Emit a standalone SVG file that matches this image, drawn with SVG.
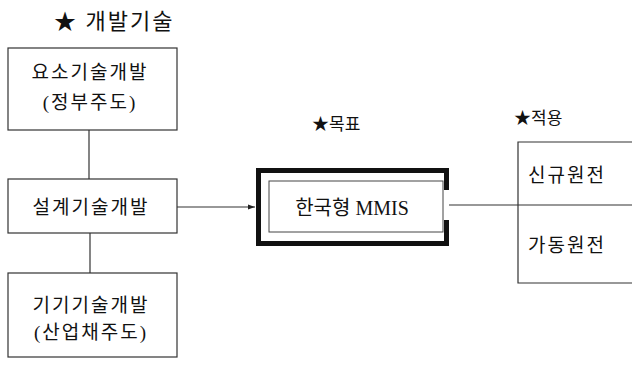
<svg xmlns="http://www.w3.org/2000/svg" width="632" height="367" viewBox="0 0 632 367">
<defs>
<style>
.t{font-family:"Liberation Serif","Noto Sans CJK KR",serif;fill:#111;}
.k{font-size:19px;text-anchor:middle;letter-spacing:2px;}
.box{fill:#fff;stroke:#333;stroke-width:1.2;}
.ln{stroke:#333;stroke-width:1.2;fill:none;}
</style>
<marker id="ah" markerWidth="8" markerHeight="8" refX="7" refY="4" orient="auto" markerUnits="userSpaceOnUse">
<path d="M0,1.5 L7,4 L0,6.5 Z" fill="#222"/>
</marker>
</defs>
<rect width="632" height="367" fill="#fff"/>
<text class="t" x="54" y="29" font-size="22" letter-spacing="2">★ 개발기술</text>
<text class="t" x="312" y="130" font-size="17">★목표</text>
<text class="t" x="514" y="124" font-size="17">★적용</text>
<g id="connectors">
<line class="ln" x1="89" y1="130" x2="89" y2="179"/>
<line class="ln" x1="90" y1="233" x2="90" y2="273"/>
<line class="ln" x1="177" y1="207" x2="255" y2="207" marker-end="url(#ah)"/>
<line class="ln" x1="449" y1="205" x2="518" y2="205"/>
</g>
<g id="n1">
<rect class="box" x="8" y="48" width="169" height="82"/>
<text class="t k" x="90" y="79">요소기술개발</text>
<text class="t k" x="90" y="109">(정부주도)</text>
</g>
<g id="n2">
<rect class="box" x="8" y="179" width="169" height="54"/>
<text class="t k" x="91" y="214">설계기술개발</text>
</g>
<g id="n3">
<rect class="box" x="8" y="273" width="169" height="84"/>
<text class="t k" x="91" y="312">기기기술개발</text>
<text class="t k" x="91" y="339">(산업채주도)</text>
</g>
<g id="mmis">
<path d="M446.5,190 V170.5 H258.5 V243.5 H446.5 V220" fill="none" stroke="#111" stroke-width="5"/>
<rect x="269" y="181" width="174" height="51" fill="none" stroke="#444" stroke-width="1"/>
<text class="t" x="352" y="215" font-size="20" text-anchor="middle">한국형 MMIS</text>
</g>
<g id="apply">
<path class="ln" d="M640,142 H518 V283 H640"/>
<line class="ln" x1="518" y1="205" x2="632" y2="205"/>
<text class="t k" x="567" y="182">신규원전</text>
<text class="t k" x="567" y="252">가동원전</text>
</g>
</svg>
